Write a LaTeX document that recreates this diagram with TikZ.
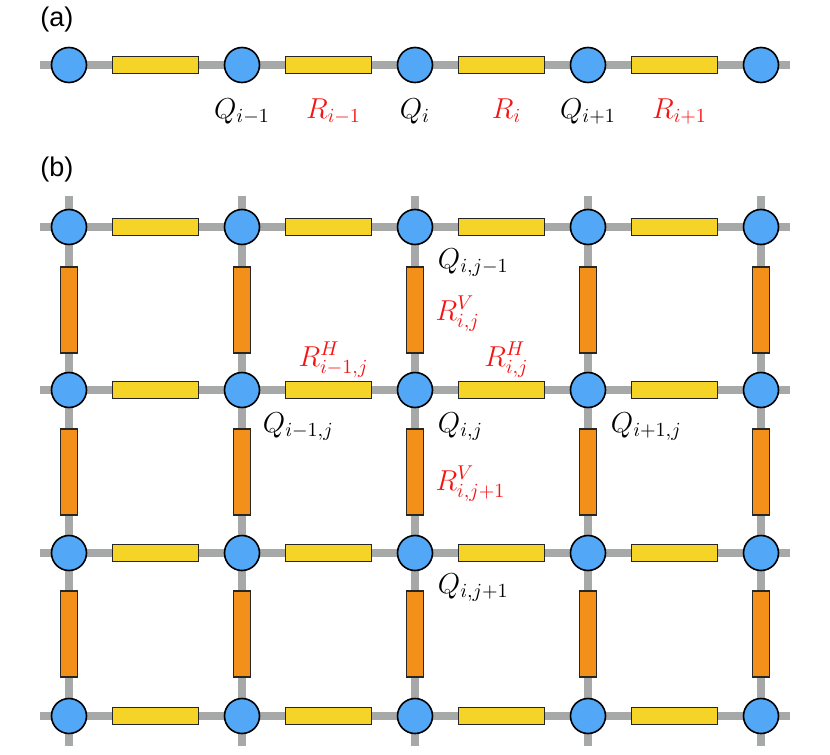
\documentclass[tikz,border=0pt]{standalone}
\usepackage{amsmath,amssymb}
\usepackage{fontspec}
\newfontfamily\panelfont{Liberation Sans}
\usetikzlibrary{positioning}

\definecolor{siteblue}{RGB}{82,168,247}
\definecolor{hyellow}{RGB}{245,211,39}
\definecolor{vorange}{RGB}{243,144,25}
\definecolor{wiregray}{RGB}{166,169,168}
\definecolor{labelred}{RGB}{245,20,20}

\begin{document}
\begin{tikzpicture}[
    x=0.5pt, y=-0.5pt,
    every node/.style={font=\fontsize{14}{17}\selectfont},
    wire/.style={draw=wiregray, line width=4pt},
    site/.style={circle, draw=black, line width=0.8pt, fill=siteblue, minimum size=17.5pt, inner sep=0pt},
    hbar/.style={rectangle, draw=black!85, line width=0.6pt, fill=hyellow, minimum width=43pt, minimum height=8.5pt, inner sep=0pt},
    vbar/.style={rectangle, draw=black!85, line width=0.6pt, fill=vorange, minimum width=8.5pt, minimum height=43pt, inner sep=0pt},
    qlabel/.style={text=black, inner sep=1pt},
    rlabel/.style={text=labelred, inner sep=1pt},
    panel/.style={font=\panelfont\fontsize{13.5}{16}\selectfont, inner sep=0pt}
  ]
  \useasboundingbox (0,0) rectangle (830,755);

  % (a) one-dimensional chain
  \node[panel, anchor=west] (pa) at (40,20) {(a)};
  \coordinate (a-west) at (40,65);
  \coordinate (a-east) at (790,65);
  \draw[wire] (a-west) -- (a-east);
  \foreach \c [count=\k] in {69,242,415,588,761}
    \node[site] (qa-\k) at (\c,65) {};
  \foreach \c [count=\k] in {155.5,328.5,501.5,674.5}
    \node[hbar] (ha-\k) at (\c,65) {};

  \node[qlabel, below=6.5pt of qa-2] (lqa-2) {$Q_{i-1}$};
  \node[qlabel, below=6.5pt of qa-3] (lqa-3) {$Q_{i}$};
  \node[qlabel, below=6.5pt of qa-4] (lqa-4) {$Q_{i+1}$};
  \node[rlabel, anchor=base, xshift=2.5pt] (lra-2) at (ha-2 |- lqa-2.base) {$R_{i-1}$};
  \node[rlabel, anchor=base, xshift=2.5pt] (lra-3) at (ha-3 |- lqa-3.base) {$R_{i}$};
  \node[rlabel, anchor=base, xshift=2.5pt] (lra-4) at (ha-4 |- lqa-4.base) {$R_{i+1}$};

  % (b) two-dimensional lattice
  \node[panel, anchor=west] (pb) at (40,170) {(b)};
  \foreach \c [count=\k] in {69,242,415,588,761} {
    \coordinate (top-\k) at (\c,196);
    \coordinate (bot-\k) at (\c,746);
    \draw[wire] (top-\k) -- (bot-\k);
  }
  \foreach \y [count=\r] in {227,390,553,716} {
    \coordinate (west-\r) at (40,\y);
    \coordinate (east-\r) at (790,\y);
    \draw[wire] (west-\r) -- (east-\r);
  }
  \foreach \y [count=\r] in {310,472,634}
    \foreach \c [count=\k] in {69,242,415,588,761}
      \node[vbar] (v-\k-\r) at (\c,\y) {};
  \foreach \y [count=\r] in {227,390,553,716} {
    \foreach \c [count=\k] in {155.5,328.5,501.5,674.5}
      \node[hbar] (h-\k-\r) at (\c,\y) {};
    \foreach \c [count=\k] in {69,242,415,588,761}
      \node[site] (q-\k-\r) at (\c,\y) {};
  }

  \node[qlabel, below right=3.2pt and 3.8pt of q-3-1] (lq-3-1) {$Q_{i,j-1}$};
  \node[qlabel, below right=3.8pt and 2.8pt of q-2-2] (lq-2-2) {$Q_{i-1,j}$};
  \node[qlabel, below right=3.8pt and 3.8pt of q-3-2] (lq-3-2) {$Q_{i,j}$};
  \node[qlabel, below right=3.8pt and 3.8pt of q-4-2] (lq-4-2) {$Q_{i+1,j}$};
  \node[qlabel, below right=2.8pt and 3.8pt of q-3-3] (lq-3-3) {$Q_{i,j+1}$};

  \node[rlabel, anchor=base west] (lv-3-1) at ([xshift=4.5pt, yshift=-5pt]v-3-1.east) {$R^{V}_{i,j}$};
  \node[rlabel, anchor=base west] (lv-3-2) at ([xshift=4.5pt, yshift=-9pt]v-3-2.east) {$R^{V}_{i,j+1}$};
  \node[rlabel, anchor=base] (lh-2-2) at ([xshift=2.5pt, yshift=7.25pt]h-2-2.north) {$R^{H}_{i-1,j}$};
  \node[rlabel, anchor=base] (lh-3-2) at ([xshift=2.5pt, yshift=7.25pt]h-3-2.north) {$R^{H}_{i,j}$};

\end{tikzpicture}
\end{document}
